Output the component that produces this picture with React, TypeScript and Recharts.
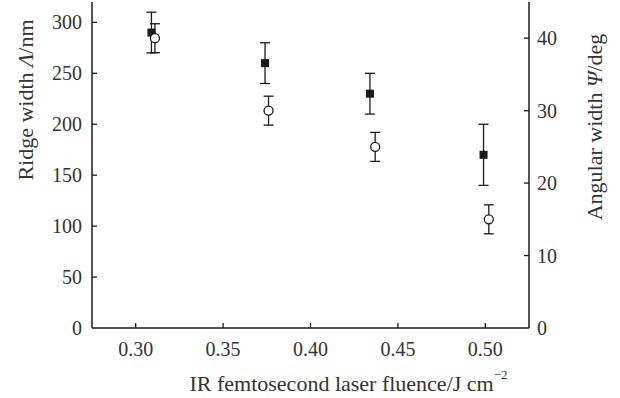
import React from 'react';
import { ScatterChart, Scatter, XAxis, YAxis, ErrorBar, Label } from 'recharts';

// ridge width (filled squares, left axis)
const fluenceA = [0.309, 0.374, 0.434, 0.499];
const ridgeWidth = [290, 260, 230, 170];
const ridgeErr = [20, 20, 20, 30];

// angular width (open circles, right axis)
const fluenceB = [0.311, 0.376, 0.437, 0.502];
const angularWidth = [40, 30, 25, 15];
const angularErr = [2, 2, 2, 2];

const xTicks = [0.3, 0.35, 0.4, 0.45, 0.5];
const leftTicks = [0, 50, 100, 150, 200, 250, 300];
const rightTicks = [0, 10, 20, 30, 40];

const ridgeData = fluenceA.map((x, i) => ({ x, y: ridgeWidth[i], err: ridgeErr[i] }));
const angularData = fluenceB.map((x, i) => ({ x, y: angularWidth[i], err: angularErr[i] }));

const FONT = 'Liberation Serif, Times New Roman, serif';
const INK = '#1a1a1a';
const TICK_FS = 20;
const TITLE_FS = 22;

const XTick = (p: any) => {
  const { x, y, payload } = p;
  const axisY = y - 14;
  return (
    <g>
      <line x1={x} x2={x} y1={axisY} y2={axisY - 5} stroke={INK} strokeWidth={1.3} />
      <text x={x} y={y} dy="0.71em" textAnchor="middle" fontFamily={FONT} fontSize={TICK_FS} fill="#333">
        {payload.value.toFixed(2)}
      </text>
    </g>
  );
};

const LeftTick = (p: any) => {
  const { x, y, payload } = p;
  const axisX = x + 10;
  return (
    <g>
      {payload.value !== 0 && (
        <line x1={axisX} x2={axisX + 5} y1={y} y2={y} stroke={INK} strokeWidth={1.3} />
      )}
      <text x={x} y={y} dy="0.35em" textAnchor="end" fontFamily={FONT} fontSize={TICK_FS} fill="#333">
        {payload.value}
      </text>
    </g>
  );
};

const RightTick = (p: any) => {
  const { x, y, payload } = p;
  const axisX = x - 8;
  return (
    <g>
      {payload.value !== 0 && (
        <line x1={axisX} x2={axisX - 5} y1={y} y2={y} stroke={INK} strokeWidth={1.3} />
      )}
      <text x={x} y={y} dy="0.35em" textAnchor="start" fontFamily={FONT} fontSize={TICK_FS} fill="#333">
        {payload.value}
      </text>
    </g>
  );
};

const Square = (p: any) => (
  <rect x={p.cx - 4} y={p.cy - 4} width={8} height={8} fill={INK} />
);

const Circle = (p: any) => (
  <circle cx={p.cx} cy={p.cy} r={4.5} fill="#fff" stroke={INK} strokeWidth={1.3} />
);

const LeftTitle = (p: any) => {
  const vb = p.viewBox;
  const cx = vb.x + 25;
  const cy = vb.y + 98;
  return (
    <text x={cx} y={cy} transform={`rotate(-90 ${cx} ${cy})`} textAnchor="middle" dominantBaseline="central"
      fontFamily={FONT} fontSize={TITLE_FS} fill="#333">
      Ridge width <tspan fontStyle="italic">Λ</tspan>/nm
    </text>
  );
};

const RightTitle = (p: any) => {
  const vb = p.viewBox;
  const cx = vb.x + 65;
  const cy = vb.y + 125;
  return (
    <text x={cx} y={cy} transform={`rotate(-90 ${cx} ${cy})`} textAnchor="middle" dominantBaseline="central"
      fontFamily={FONT} fontSize={TITLE_FS} fill="#333">
      Angular width <tspan fontStyle="italic">Ψ</tspan>/deg
    </text>
  );
};

const BottomTitle = (p: any) => {
  const vb = p.viewBox;
  const cx = vb.x + vb.width / 2 + 38;
  const cy = vb.y + 55;
  return (
    <text x={cx} y={cy} textAnchor="middle" dominantBaseline="central" fontFamily={FONT} fontSize={TITLE_FS} fill="#333">
      IR femtosecond laser fluence/J cm<tspan fontSize={13} dy={-9}>−2</tspan>
    </text>
  );
};

export default function App() {
  return (
    <div style={{ position: 'absolute', left: 0, top: 0, width: 620, height: 398, background: '#fff' }}>
      <ScatterChart width={620} height={398} margin={{ top: 2, right: 0, bottom: 0, left: 0 }}>
        <XAxis
          xAxisId="b"
          type="number"
          dataKey="x"
          domain={[0.275, 0.525]}
          ticks={xTicks}
          height={70}
          allowDataOverflow
          axisLine={{ stroke: INK, strokeWidth: 1.5 }}
          tickLine={false}
          tickSize={0}
          tickMargin={14}
          tick={(p: any) => <XTick {...p} />}
        >
          <Label content={BottomTitle} />
        </XAxis>
        <XAxis
          xAxisId="t"
          orientation="top"
          type="number"
          domain={[0.275, 0.525]}
          height={0}
          allowDataOverflow
          axisLine={{ stroke: INK, strokeWidth: 1.5 }}
          tickLine={false}
          tick={false}
        />
        <YAxis
          yAxisId="left"
          type="number"
          dataKey="y"
          domain={[0, 320]}
          ticks={leftTicks}
          width={92}
          allowDataOverflow
          axisLine={{ stroke: INK, strokeWidth: 1.5 }}
          tickLine={false}
          tickSize={0}
          tickMargin={10}
          tick={(p: any) => <LeftTick {...p} />}
        >
          <Label content={LeftTitle} />
        </YAxis>
        <YAxis
          yAxisId="right"
          orientation="right"
          type="number"
          dataKey="y"
          domain={[0, 45]}
          ticks={rightTicks}
          width={91}
          allowDataOverflow
          axisLine={{ stroke: INK, strokeWidth: 1.5 }}
          tickLine={false}
          tickSize={0}
          tickMargin={8}
          tick={(p: any) => <RightTick {...p} />}
        >
          <Label content={RightTitle} />
        </YAxis>
        <Scatter xAxisId="b" yAxisId="left" data={ridgeData} dataKey="y" shape={Square} isAnimationActive={false}>
          <ErrorBar dataKey="err" direction="y" width={5} stroke={INK} strokeWidth={1.3} isAnimationActive={false} />
        </Scatter>
        <Scatter xAxisId="b" yAxisId="right" data={angularData} dataKey="y" shape={Circle} isAnimationActive={false}>
          <ErrorBar dataKey="err" direction="y" width={5} stroke={INK} strokeWidth={1.3} isAnimationActive={false} />
        </Scatter>
      </ScatterChart>
    </div>
  );
}
